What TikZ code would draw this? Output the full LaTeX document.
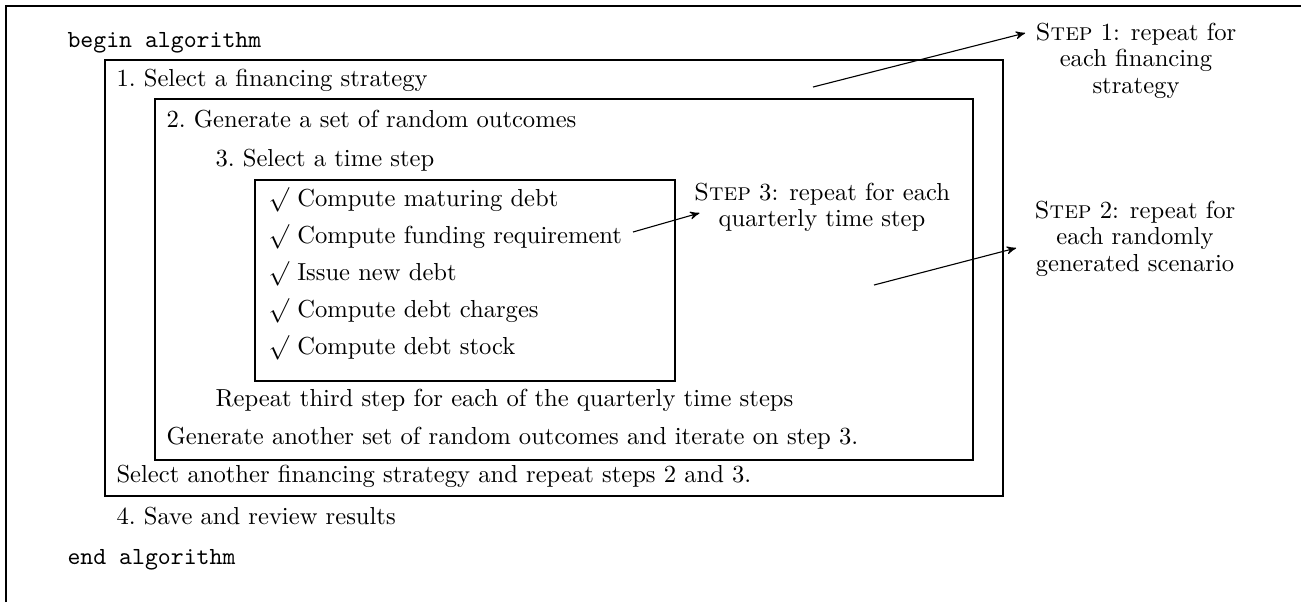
\documentclass[tikz,border=0pt]{standalone}
\usetikzlibrary{arrows,positioning}

\begin{document}
\begin{tikzpicture}[x=0.4065pt,y=-0.4065pt,>=stealth',line width=0.45pt,
  algo line/.style={anchor=base west,inner sep=0pt},
  step note/.style={anchor=north,align=center,inner sep=0pt,
    font=\fontsize{10}{10.6}\selectfont}]
    \useasboundingbox (0,0) rectangle (1301,602);
    \draw (6,602) -- (6,6) -- (1301,6);

    % nested loop boxes
    \draw (105,60) rectangle (1003,496);
    \draw (155,99) rectangle (973,460);
    \draw (255,180) rectangle (675,381);

    \node[algo line](begin) at (67,47) {\ttfamily begin algorithm};
    \node[algo line](sel1) at (116,86) {1.\ Select a financing strategy};
    \node[algo line](gen2) at (166,127) {2.\ Generate a set of random outcomes};
    \node[algo line](sel3) at (215,166) {3.\ Select a time step};
    \foreach \task [count=\i] in {Compute maturing debt,
        Compute funding requirement,Issue new debt,
        Compute debt charges,Compute debt stock}
      \node[algo line](chk\i) at (268,{169+37*\i}) {\smash{$\surd$} \task};
    \node[algo line](rep3) at (215,406) {Repeat third step for each of the quarterly time steps};
    \node[algo line](rep2) at (166,444) {Generate another set of random outcomes and iterate on step 3.};
    \node[algo line](rep1) at (116,482) {Select another financing strategy and repeat steps 2 and 3.};
    \node[algo line](save) at (116,524) {4.\ Save and review results};
    \node[algo line](end) at (67,564) {\ttfamily end algorithm};

    \node[step note](s1) at (1136,23) {\textsc{Step} 1: repeat for\\each financing\\strategy};
    \node[step note](s3) at (822,183) {\textsc{Step} 3: repeat for each\\quarterly time step};
    \node[step note](s2) at (1135,201) {\textsc{Step} 2: repeat for\\each randomly\\generated scenario};

    \coordinate (from1) at (813,87);
    \coordinate (from3) at (633,232);
    \coordinate (from2) at (874,285);
    \draw[->] (from1) -- ([shift={(-10,10)}]s1.north west);
    \draw[->] (from3) -- ([shift={(6,30)}]s3.north west);
    \draw[->] (from2) -- ([shift={(-18,47)}]s2.north west);

\end{tikzpicture}
\end{document}
